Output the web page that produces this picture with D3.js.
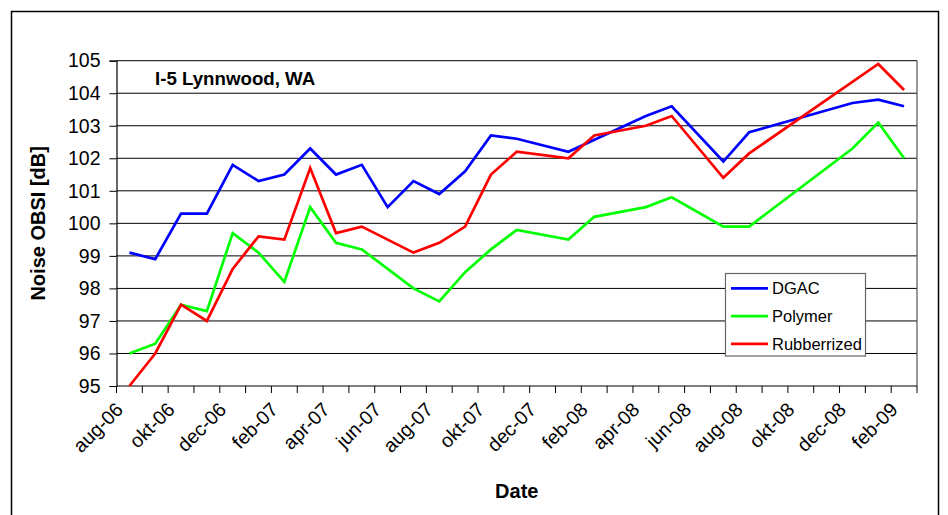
<!DOCTYPE html>
<html><head><meta charset="utf-8">
<script src="https://cdn.jsdelivr.net/npm/d3@7"></script>
<style>
html,body{margin:0;padding:0;background:#fff;}
svg{display:block;font-family:"Liberation Sans",Arial,sans-serif;}
</style></head>
<body><svg id="chart" width="948" height="515"></svg>
<script>
const months = ["aug-06","sep-06","okt-06","nov-06","dec-06","jan-07","feb-07","mrt-07","apr-07","mei-07","jun-07","jul-07","aug-07","sep-07","okt-07","nov-07","dec-07","jan-08","feb-08","mrt-08","apr-08","mei-08","jun-08","jul-08","aug-08","sep-08","okt-08","nov-08","dec-08","jan-09","feb-09"];
const tickLabels = ["aug-06","okt-06","dec-06","feb-07","apr-07","jun-07","aug-07","okt-07","dec-07","feb-08","apr-08","jun-08","aug-08","okt-08","dec-08","feb-09"];
const yTicks = [95,96,97,98,99,100,101,102,103,104,105];
const seriesNames = ["DGAC","Polymer","Rubberrized"];
const dgac = [99.1,98.9,100.3,100.3,101.8,101.3,101.5,102.3,101.5,101.8,100.5,101.3,100.9,101.6,102.7,102.6,null,102.2,null,null,103.3,103.6,null,101.9,102.8,null,null,null,103.7,103.8,103.6];
const polymer = [96.0,96.3,97.5,97.3,99.7,99.1,98.2,100.5,99.4,99.2,null,98.0,97.6,98.5,99.2,99.8,null,99.5,100.2,null,100.5,100.8,null,99.9,99.9,null,null,null,102.3,103.1,102.0];
const rubber = [95.0,96.0,97.5,97.0,98.6,99.6,99.5,101.7,99.7,99.9,null,99.1,99.4,99.9,101.5,102.2,null,102.0,102.7,null,103.0,103.3,null,101.4,102.15,null,null,null,null,104.9,104.1];
const colors = ["#0000ff","#00ff00","#ff0000"];

const svg = d3.select("#chart");
const L = 116.5, R = 917, T = 60.7, B = 386;

// outer chart border
svg.append("rect").attr("x",11.5).attr("y",11.5).attr("width",927).attr("height",530)
  .attr("fill","#fff").attr("stroke","#000").attr("stroke-width",1.5);

const x = d3.scaleBand().domain(months).range([L,R]).padding(0);
const y = d3.scaleLinear().domain([95,105]).range([B,T]);

// gridlines
svg.append("g").selectAll("line").data(yTicks.filter(d=>d>95)).join("line")
  .attr("x1",L).attr("x2",R).attr("y1",d=>y(d)).attr("y2",d=>y(d))
  .attr("stroke","#000").attr("stroke-width",1);
// plot right border
svg.append("line").attr("x1",R).attr("x2",R).attr("y1",T).attr("y2",B).attr("stroke","#555").attr("stroke-width",1.2);

// y axis
const yAxis = svg.append("g").attr("transform",`translate(${L},0)`)
  .call(d3.axisLeft(y).tickValues(yTicks).tickSize(7).tickPadding(9).tickFormat(d3.format("d")));
yAxis.select(".domain").attr("stroke","#000").attr("stroke-width",1.2);
yAxis.selectAll(".tick line").attr("stroke","#000");
yAxis.selectAll("text").attr("font-size","19.5px").attr("fill","#000")
  .attr("font-family","'Liberation Sans',Arial,sans-serif");

// x axis: ticks at month boundaries
const bounds = months.map(m=>x(m)).concat([R]);
const xg = svg.append("g");
xg.append("line").attr("x1",L).attr("x2",R).attr("y1",B).attr("y2",B).attr("stroke","#000").attr("stroke-width",1.2);
xg.selectAll("line.tk").data(bounds).join("line").attr("class","tk")
  .attr("x1",d=>d).attr("x2",d=>d).attr("y1",B).attr("y2",B+7).attr("stroke","#000");
xg.selectAll("text").data(tickLabels).join("text")
  .attr("transform",d=>`translate(${x(d)+x.bandwidth()/2-10},${B+20}) rotate(-45)`)
  .attr("text-anchor","end").attr("dy","0.35em")
  .attr("font-size","19.5px").text(d=>d);

// series
const line = d3.line().x(d=>x(d.m)+x.bandwidth()/2).y(d=>y(d.v));
[dgac,polymer,rubber].forEach((arr,i)=>{
  const pts = arr.map((v,j)=>({m:months[j],v})).filter(d=>d.v!==null);
  svg.append("path").datum(pts).attr("d",line).attr("fill","none")
    .attr("stroke",colors[i]).attr("stroke-width",2.7).attr("stroke-linejoin","miter");
});

// title
svg.append("text").attr("x",155).attr("y",85).attr("font-size","18.7px").attr("font-weight","bold").text("I-5 Lynnwood, WA");

// axis titles
svg.append("text").attr("transform",`translate(45,${(T+B)/2}) rotate(-90)`).attr("text-anchor","middle")
  .attr("font-size","20px").attr("font-weight","bold").text("Noise OBSI [dB]");
svg.append("text").attr("x",(L+R)/2).attr("y",498).attr("text-anchor","middle")
  .attr("font-size","20px").attr("font-weight","bold").text("Date");

// legend
const lg = svg.append("g");
lg.append("rect").attr("x",725.5).attr("y",273.5).attr("width",140).attr("height",82.5)
  .attr("fill","#fff").attr("stroke","#666").attr("stroke-width",1.2);
seriesNames.forEach((n,i)=>{
  const ly = 288.3 + i*27.8;
  lg.append("line").attr("x1",731).attr("x2",768).attr("y1",ly).attr("y2",ly).attr("stroke",colors[i]).attr("stroke-width",2.7);
  lg.append("text").attr("x",772).attr("y",ly).attr("dy","0.36em").attr("font-size","16.5px").text(n);
});
</script></body></html>
